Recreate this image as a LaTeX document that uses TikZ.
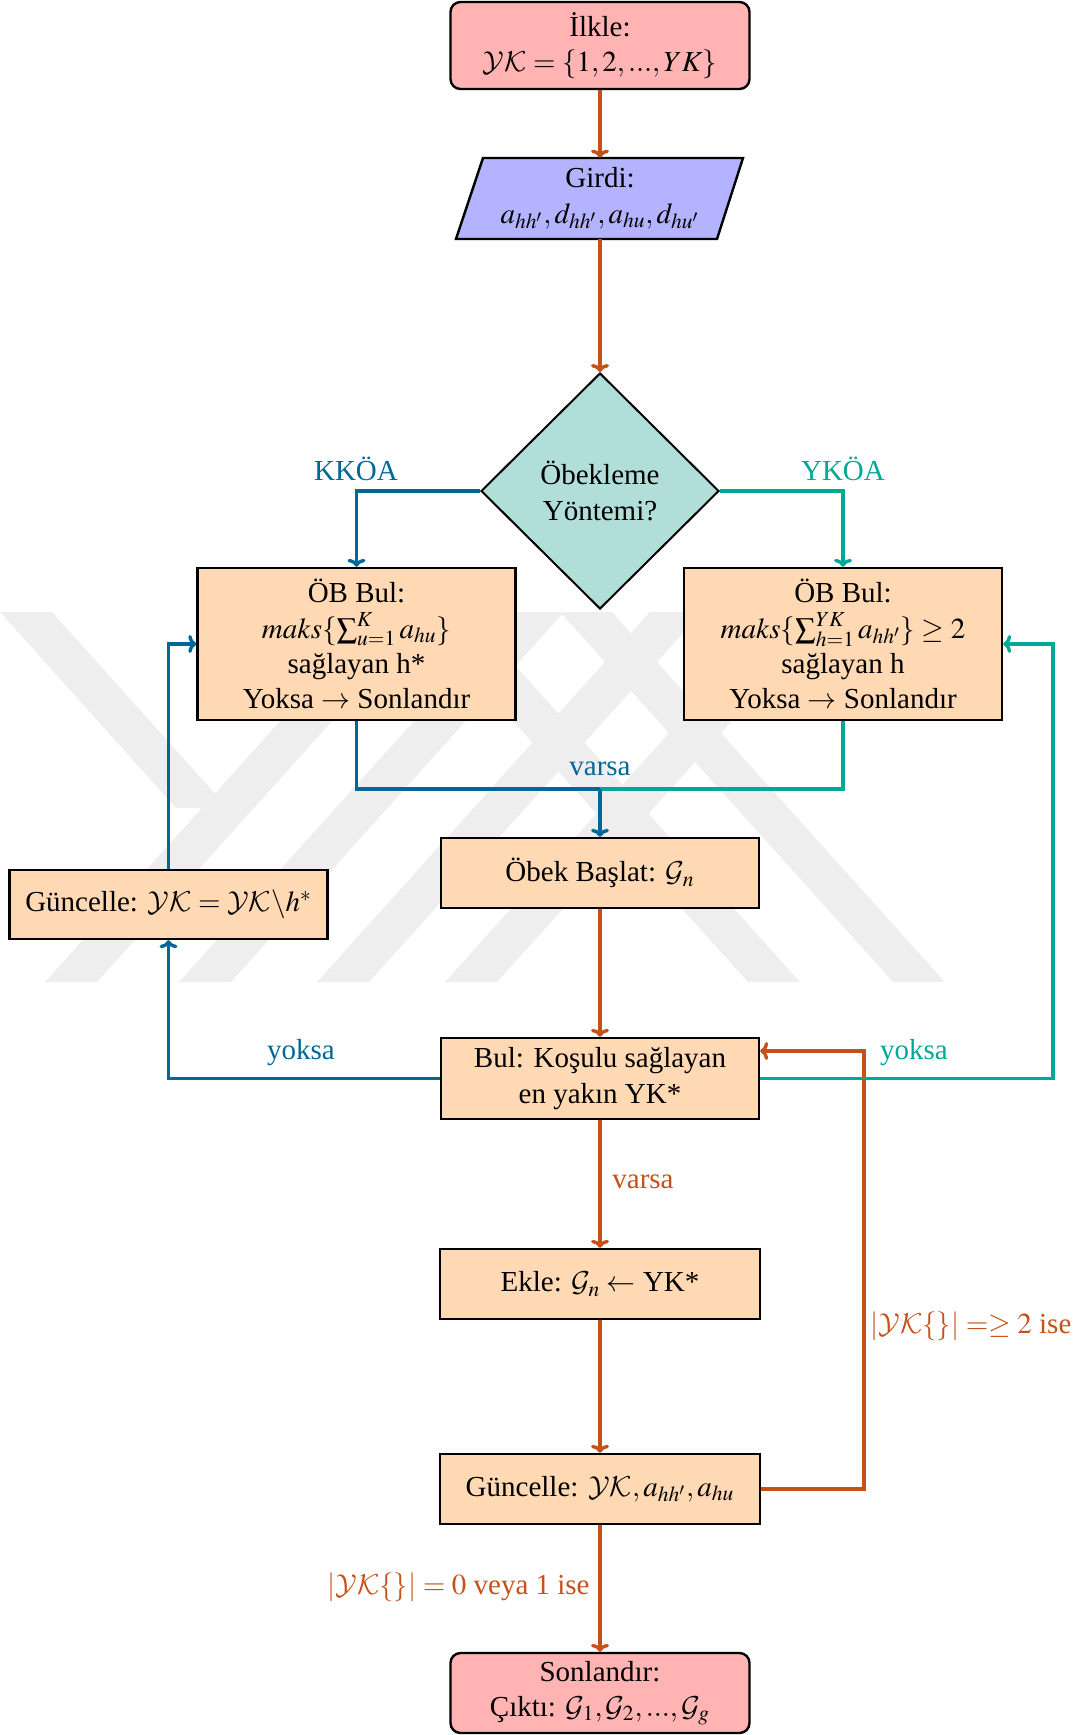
\documentclass[tikz,border=0pt]{standalone}
\usepackage{mathptmx}
\DeclareMathAlphabet{\mathcal}{OMS}{cmsy}{m}{n}
\usepackage[no-math]{fontspec}
\setmainfont{Liberation Serif}
\usetikzlibrary{shapes.geometric,arrows.meta,calc}
\definecolor{cOr}{RGB}{197,81,24}
\definecolor{cBl}{RGB}{0,104,152}
\definecolor{cTe}{RGB}{0,168,150}
\definecolor{cPk}{RGB}{255,179,179}
\definecolor{cLb}{RGB}{179,179,255}
\definecolor{cDi}{RGB}{178,222,218}
\definecolor{cBx}{RGB}{255,217,179}
\definecolor{cWm}{RGB}{238,238,238}
\begin{document}
\begin{tikzpicture}[x=0.5pt,y=-0.5pt,
  font=\fontsize{14.5}{17.6}\selectfont,
  box/.style={draw=black, line width=1.2pt, fill=cBx, align=center, inner sep=2pt,
    minimum width=159pt, minimum height=35pt},
  term/.style={box, fill=cPk, rounded corners=5pt, minimum width=149.5pt, minimum height=43.5pt},
  ln/.style={line width=1.7pt},
  arr/.style={ln, -{To[length=4pt,width=9pt]}},
  lbl/.style={inner sep=1pt}]
\useasboundingbox (0,0) rectangle (1081,1735);
% watermark
\begin{scope}[cWm]
\fill (45,982) -- (97,982) -- (254,808) -- (202,808) -- cycle;
\fill (179,982) -- (231,982) -- (564,612) -- (512,612) -- cycle;
\fill (317,982) -- (369,982) -- (702,612) -- (650,612) -- cycle;
\fill (445,982) -- (497,982) -- (830,612) -- (778,612) -- cycle;
\fill (0,612) -- (52,612) -- (228,808) -- (176,808) -- cycle;
\fill (202,808) -- (254,808) -- (430,612) -- (378,612) -- cycle;
\fill (415,612) -- (467,612) -- (800,982) -- (748,982) -- cycle;
\fill (560,612) -- (612,612) -- (945,982) -- (893,982) -- cycle;
\end{scope}
% nodes
\node[term] (ilkle) at (600,45.5) {İlkle:\\ $\mathcal{YK}=\{1,2,...,YK\}$};
\fill[cLb] (483,158) -- (743,158) -- (717,239) -- (456,239) -- cycle;
\draw[line width=1.2pt] (483,158) -- (743,158) -- (717,239) -- (456,239) -- cycle;
\node[align=center, minimum width=130pt, minimum height=40.5pt, inner sep=0pt] (girdi) at (600,198.5) {Girdi:\\ $a_{hh'},d_{hh'},a_{hu},d_{hu'}$};
\node[diamond, draw=black, line width=1pt, fill=cDi, minimum width=119pt, minimum height=118pt, inner sep=0pt, align=center] (dia) at (600,491) {Öbekleme\\ Yöntemi?};
\node[box, minimum height=76pt] (left) at (356.5,644) {ÖB Bul:\\ $maks\{\sum_{u=1}^{K}a_{hu}\}$\\ sağlayan h*\\ Yoksa $\rightarrow$ Sonlandır};
\node[box, minimum height=76pt] (right) at (843,644) {ÖB Bul:\\ $maks\{\sum_{h=1}^{YK}a_{hh'}\}\geq 2$\\ sağlayan h\\ Yoksa $\rightarrow$ Sonlandır};
\node[box] (obek) at (600,873) {Öbek Başlat: $\mathcal{G}_n$};
\node[box, minimum height=34.5pt] (gunc1) at (168.5,904.5) {Güncelle: $\mathcal{YK}=\mathcal{YK}\backslash h^*$};
\node[box, minimum height=40.5pt] (bul) at (600,1078.5) {Bul: Koşulu sağlayan\\ en yakın YK*};
\node[box, minimum width=160pt] (ekle) at (600,1284) {Ekle: $\mathcal{G}_n\leftarrow$ YK*};
\node[box, minimum width=160pt] (gunc2) at (600,1489) {Güncelle: $\mathcal{YK},a_{hh'},a_{hu}$};
\node[term, minimum height=40pt] (son) at (600,1693) {Sonlandır:\\ Çıktı: $\mathcal{G}_1,\mathcal{G}_2,...,\mathcal{G}_g$};
% coordinates
\coordinate (jn) at (600,789);
\coordinate (lp) at (864,1051);
\coordinate (rt) at (1053,1078.5);
% connectors
\draw[arr, cOr] (ilkle) -- (girdi);
\draw[arr, cOr] (girdi) -- (dia);
\draw[arr, cBl] (dia.west) -| (left.north);
\draw[arr, cTe] (dia.east) -| (right.north);
\draw[ln, cTe] (right.south) |- (jn);
\draw[ln, cBl] (left.south) |- (jn);
\draw[arr, cBl] (jn) -- (obek.north);
\draw[arr, cOr] (obek) -- (bul);
\draw[arr, cBl] (bul.west) -| (gunc1.south);
\draw[arr, cBl] (gunc1.north) |- (left.west);
\draw[arr, cOr] (bul) -- (ekle);
\draw[arr, cOr] (ekle) -- (gunc2);
\draw[arr, cOr] (gunc2.east) -| (lp) -- (lp -| bul.east);
\draw[arr, cTe] (bul.east) -- (rt) |- (right.east);
\draw[arr, cOr] (gunc2) -- (son);
% labels
\node[lbl, text=cBl] (l1) at (356,469) {KKÖA};
\node[lbl, text=cTe] (l2) at (843,469) {YKÖA};
\node[lbl, text=cBl] (l3) at (600,769) {varsa};
\node[lbl, text=cBl] (l4) at (301,1053) {yoksa};
\node[lbl, text=cTe] (l5) at (914,1053) {yoksa};
\node[lbl, text=cOr, anchor=west] (l6) at (610,1182) {varsa};
\node[lbl, text=cOr, anchor=west] (l7) at (868,1326) {$|\mathcal{YK}\{\}|=\geq 2$ ise};
\node[lbl, text=cOr, anchor=east] (l8) at (592,1587) {$|\mathcal{YK}\{\}|=0$ veya 1 ise};
\end{tikzpicture}
\end{document}
